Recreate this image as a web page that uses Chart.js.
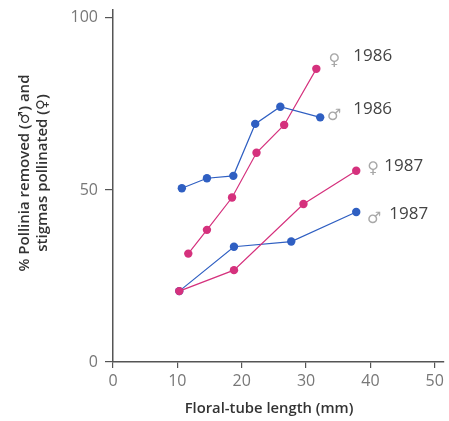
<!doctype html>
<html lang="en">
  <head>
    <meta charset="utf-8">
    <title>Pollinia removed and stigmas pollinated vs floral-tube length</title>
    <style>
      * { margin: 0; padding: 0; }
      body { background: #ffffff; }
      .chartBox { width: 449px; height: 421px; }
    </style>
  </head>
  <body>
    <div class="chartBox">
      <canvas id="myChart"></canvas>
    </div>
    <script src="https://cdn.jsdelivr.net/npm/chart.js"></script>
    <script>
    // data (x = floral-tube length mm, y = %)
    const tubeM86 = [10.7, 14.6, 18.7, 22.1, 26.0, 32.2];
    const pollM86 = [50.5, 53.4, 54.1, 69.2, 74.2, 71.1];
    const tubeF86 = [11.7, 14.6, 18.5, 22.3, 26.6, 31.6];
    const pollF86 = [31.5, 38.4, 47.8, 60.8, 68.9, 85.2];
    const tubeF87 = [10.3, 18.8, 29.6, 37.8];
    const pollF87 = [20.6, 26.7, 45.9, 55.6];
    const tubeM87 = [10.3, 18.8, 27.7, 37.8];
    const pollM87 = [20.6, 33.5, 35.0, 43.6];

    const xTicks = [0, 10, 20, 30, 40, 50];
    const yTicks = [0, 50, 100];

    const seriesNames = ['\u2642 1986', '\u2640 1986', '\u2640 1987', '\u2642 1987'];

    const blue = '#2f5fc2';
    const pink = '#d5317d';

    function pts(xs, ys) {
      return xs.map((x, i) => ({ x: x, y: ys[i] }));
    }

    function series(label, xs, ys, color) {
      return {
        label: label,
        data: pts(xs, ys),
        showLine: true,
        borderColor: color,
        backgroundColor: color,
        borderWidth: 1.2,
        pointRadius: 4.2,
        pointBorderWidth: 0,
        pointHoverRadius: 4.2
      };
    }

    // label placement next to the last point of each series (offsets in px)
    const labelSpots = [
      { ds: 0, sym: '\u2642', text: '1986', sx: 14, sy: -2, tx: 33, ty: -8 },
      { ds: 1, sym: '\u2640', text: '1986', sx: 18, sy: -8, tx: 37, ty: -13 },
      { ds: 2, sym: '\u2640', text: '1987', sx: 17, sy: -2, tx: 28, ty: -5 },
      { ds: 3, sym: '\u2642', text: '1987', sx: 18, sy: 7, tx: 33, ty: 2 }
    ];

    const annotations = {
      id: 'annotations',
      afterDatasetsDraw(chart) {
        const ctx = chart.ctx;
        ctx.save();
        ctx.textBaseline = 'middle';
        labelSpots.forEach(l => {
          const d = chart.data.datasets[l.ds].data;
          const last = d[d.length - 1];
          const px = chart.scales.x.getPixelForValue(last.x);
          const py = chart.scales.y.getPixelForValue(last.y);
          ctx.textAlign = 'center';
          ctx.fillStyle = '#a8a8a8';
          ctx.font = '16px "DejaVu Sans"';
          ctx.fillText(l.sym, px + l.sx, py + l.sy);
          ctx.textAlign = 'left';
          ctx.fillStyle = '#444444';
          ctx.font = '17px "Open Sans"';
          ctx.fillText(l.text, px + l.tx, py + l.ty);
        });

        // axis titles
        ctx.fillStyle = '#333333';
        ctx.font = '600 14.8px "Open Sans"';
        ctx.textAlign = 'center';
        ctx.fillText('Floral-tube length (mm)', 269, 409);

        ctx.translate(34, 173);
        ctx.rotate(-Math.PI / 2);
        ctx.font = '600 15px "Open Sans", "DejaVu Sans"';
        ctx.fillText('% Pollinia removed (\u2642) and', 0, -9);
        ctx.fillText('stigmas pollinated (\u2640)', 0, 9);
        ctx.restore();
      }
    };

    const data = {
      datasets: [
        series(seriesNames[0], tubeM86, pollM86, blue),
        series(seriesNames[1], tubeF86, pollF86, pink),
        series(seriesNames[2], tubeF87, pollF87, pink),
        series(seriesNames[3], tubeM87, pollM87, blue)
      ]
    };

    const axisColor = '#555555';

    const config = {
      type: 'scatter',
      data,
      options: {
        responsive: true,
        maintainAspectRatio: false,
        animation: false,
        layout: { padding: { top: 10, right: 2, left: 0, bottom: 0 } },
        plugins: {
          legend: { display: false },
          tooltip: { enabled: false }
        },
        scales: {
          x: {
            type: 'linear',
            min: 0,
            max: 51.4,
            afterBuildTicks: s => { s.ticks = xTicks.map(v => ({ value: v })); },
            afterFit: s => { s.height = 59; },
            border: { display: true, color: axisColor, width: 1.5 },
            grid: { drawOnChartArea: false, color: axisColor, tickLength: 6, lineWidth: 1.2 },
            ticks: {
              color: '#777777',
              padding: 5,
              maxRotation: 0,
              font: { family: 'Open Sans', size: 16, lineHeight: 1 }
            }
          },
          y: {
            type: 'linear',
            min: 0,
            max: 102.3,
            afterBuildTicks: s => { s.ticks = yTicks.map(v => ({ value: v })); },
            afterFit: s => { s.width = 113; s.paddingTop = 0; },
            border: { display: true, color: axisColor, width: 1.5 },
            grid: { drawOnChartArea: false, color: axisColor, tickLength: 8, lineWidth: 1.2 },
            ticks: {
              color: '#777777',
              padding: 7,
              font: { family: 'Open Sans', size: 16, lineHeight: 1 }
            }
          }
        }
      },
      plugins: [annotations]
    };

    const myChart = new Chart(document.getElementById('myChart'), config);
    </script>
  </body>
</html>
